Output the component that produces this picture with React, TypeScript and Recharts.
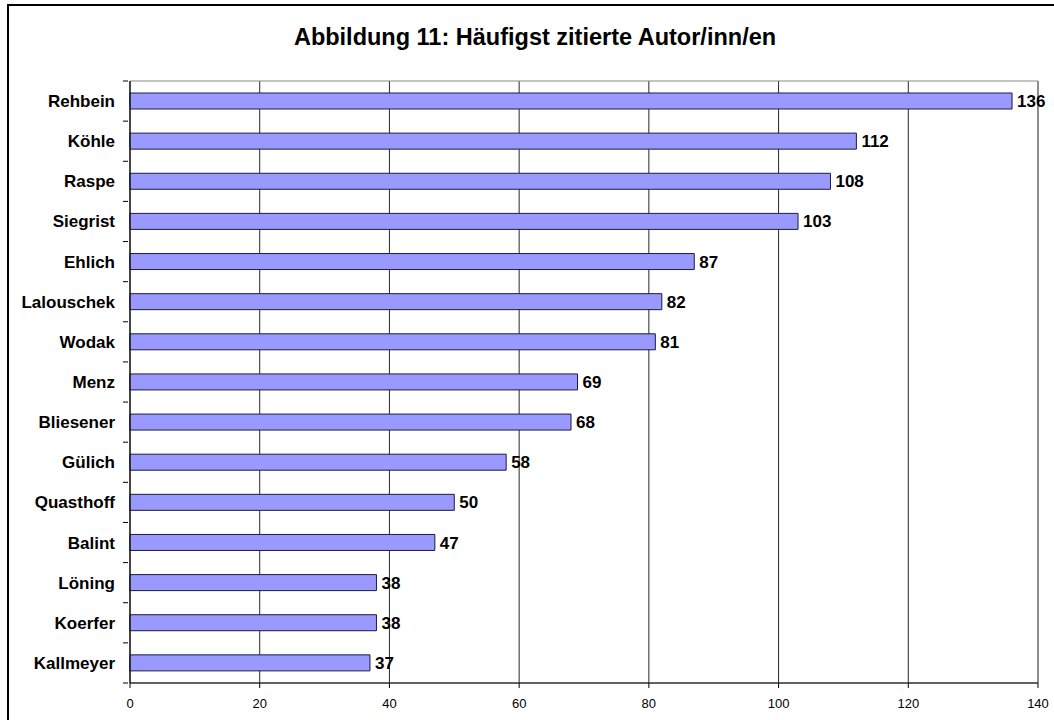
import { Bar, BarChart, CartesianGrid, LabelList, ReferenceArea, XAxis, YAxis } from 'recharts'

const authors = [
  'Rehbein', 'Köhle', 'Raspe', 'Siegrist', 'Ehlich', 'Lalouschek', 'Wodak', 'Menz',
  'Bliesener', 'Gülich', 'Quasthoff', 'Balint', 'Löning', 'Koerfer', 'Kallmeyer',
]
const citations = [136, 112, 108, 103, 87, 82, 81, 69, 68, 58, 50, 47, 38, 38, 37]
const xTicks = [0, 20, 40, 60, 80, 100, 120, 140]

const data = authors.map((name, i) => ({ name, value: citations[i] }))

const font = 'Arial, "Liberation Sans", sans-serif'
const BAND = 602 / authors.length

const AuthorTick = (props: any) => {
  const { x, y, payload, index } = props
  return (
    <g>
      <text x={x - 13} y={y} dy={6} textAnchor="end" fontFamily={font} fontWeight="bold" fontSize={17} fill="#000">
        {payload.value}
      </text>
      <line x1={x - 5} x2={x} y1={y - BAND / 2} y2={y - BAND / 2} stroke="#000" />
      {index === authors.length - 1 && (
        <line x1={x - 5} x2={x} y1={y + BAND / 2} y2={y + BAND / 2} stroke="#000" />
      )}
    </g>
  )
}

export default function App() {
  return (
    <div style={{ position: 'absolute', left: 0, top: 0, width: 1054, height: 720, overflow: 'hidden', background: '#fff' }}>
      <div style={{ position: 'absolute', left: 7, top: 4, width: 1200, height: 900, border: '2px solid #000' }} />
      <div
        style={{
          position: 'absolute', left: 0, top: 24, width: 1070, textAlign: 'center',
          fontFamily: font, fontWeight: 'bold', fontSize: 23.5, color: '#000',
        }}
      >
        Abbildung 11: Häufigst zitierte Autor/inn/en
      </div>
      <div style={{ position: 'absolute', left: 0, top: 0 }}>
        <BarChart
          width={1054}
          height={720}
          data={data}
          layout="vertical"
          margin={{ top: 81, right: 16, bottom: 7, left: 0 }}
        >
          <CartesianGrid horizontal={false} stroke="#000" strokeOpacity={0.85} />
          <ReferenceArea x1={0} x2={140} fill="none" stroke="#888" strokeWidth={1} ifOverflow="extendDomain" />
          <XAxis
            type="number"
            domain={[0, 140]}
            ticks={xTicks}
            interval={0}
            height={30}
            axisLine={{ stroke: '#000' }}
            tickLine={{ stroke: '#000' }}
            tickSize={5}
            tickMargin={11}
            tick={{ fontFamily: font, fontSize: 13, fill: '#000' }}
          />
          <YAxis
            type="category"
            dataKey="name"
            width={130}
            interval={0}
            axisLine={{ stroke: '#000' }}
            tickLine={false}
            tickSize={0}
            tick={<AuthorTick />}
          />
          <Bar dataKey="value" fill="#9999FF" stroke="#1c1c3c" strokeWidth={1} barSize={16} isAnimationActive={false}>
            <LabelList
              dataKey="value"
              position="right"
              offset={5}
              style={{ fontFamily: font, fontWeight: 'bold', fontSize: 17, fill: '#000' }}
            />
          </Bar>
        </BarChart>
      </div>
    </div>
  )
}
